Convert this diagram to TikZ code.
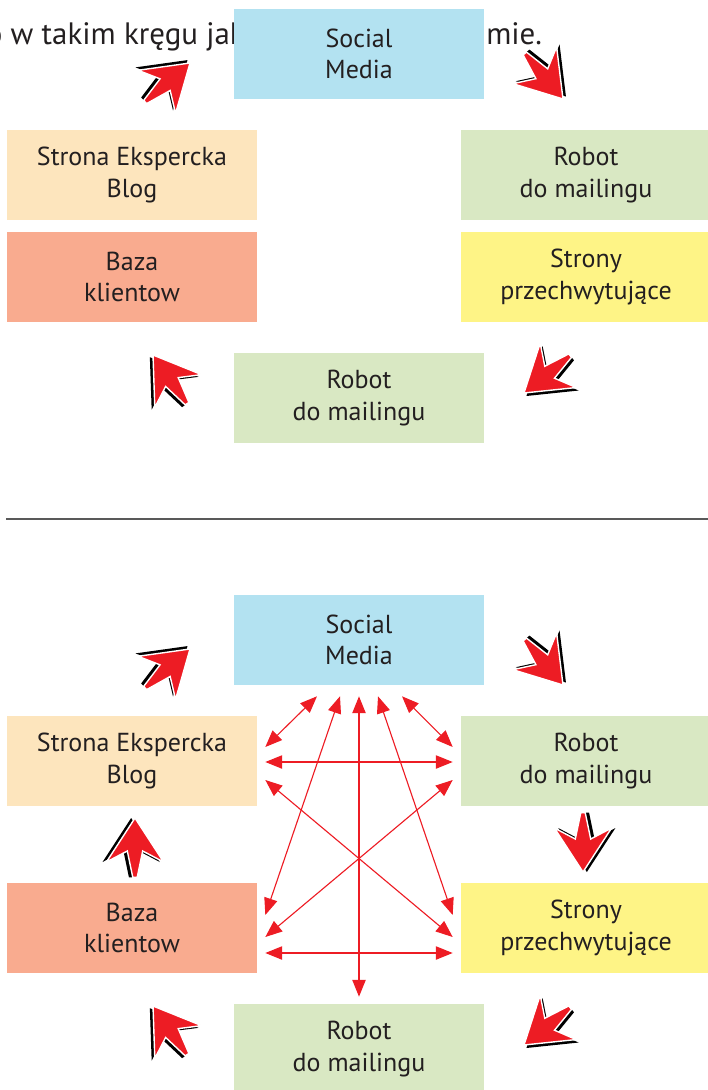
\documentclass[tikz,border=0pt]{standalone}
\usepackage{fontspec}
\setmainfont{PT Sans}
\usetikzlibrary{arrows.meta}

\definecolor{ink}{HTML}{231F20}
\definecolor{arrowred}{HTML}{ED1C24}
\definecolor{skyblue}{HTML}{B3E2F1}
\definecolor{peach}{HTML}{FDE5BD}
\definecolor{sage}{HTML}{D9E8C3}
\definecolor{salmon}{HTML}{F9AB8F}
\definecolor{lemon}{HTML}{FEF486}

\newcommand{\boxfont}{\fontsize{18.5}{22.5}\selectfont}
\newcommand{\leadfont}{\fontsize{22}{26}\selectfont}

\tikzset{
  box/.style={minimum width=6.25cm, minimum height=2.25cm, inner sep=0pt,
    align=center, font=\boxfont, text=ink},
  leadtext/.style={font=\leadfont, text=ink, inner sep=0pt},
  link/.style={draw=arrowred, line width=0.8pt,
    {Triangle[length=12pt,width=9.5pt]}-{Triangle[length=12pt,width=9.5pt]}},
  cursor/.pic={
    \begin{scope}[x=0.0275cm, y=0.0275cm]
      % shadow first, then the red dart with a white rim
      \fill[black] (0,3.5) -- (-40,29.5) -- (-30,10.5) -- (-54,5.5) -- (-54,1.5) -- (-30,-3.5) -- (-40,-22.5) -- cycle;
      \filldraw[fill=arrowred, draw=white, line width=1pt]
        (0,0) -- (-40,26) -- (-30,7) -- (-54,2) -- (-54,-2) -- (-30,-7) -- (-40,-26) -- cycle;
    \end{scope}
  }
}

\begin{document}
\begin{tikzpicture}[x=0.025cm, y=-0.025cm]
  \useasboundingbox (0,0) rectangle (708,1090);

  % line of text behind the first box
  \node[leadtext, anchor=base east] (lead) at (245,45) {o w takim kręgu jak};
  \node[leadtext, anchor=base west] (leadend) at (486,45) {mie.};

  % upper circle
  \node[box, fill=skyblue] (socialA) at (359,54) {Social\\Media};
  \node[box, fill=peach] (blogA) at (132,175) {Strona Ekspercka\\Blog};
  \node[box, fill=sage] (robotA) at (586,175) {Robot\\do mailingu};
  \node[box, fill=salmon] (bazaA) at (132,277) {Baza\\klientow};
  \node[box, fill=lemon] (stronyA) at (586,277) {Strony\\przechwytujące};
  \node[box, fill=sage] (mailA) at (359,398) {Robot\\do mailingu};

  \pic[rotate=41] at (190,63) {cursor};
  \pic[rotate=-50] at (563,99) {cursor};
  \pic[rotate=125] at (153,355) {cursor};
  \pic[rotate=219] at (524,393) {cursor};

  \draw[gray!70!black, line width=1.4pt] (6,519) -- (708,519);

  % lower circle
  \node[box, fill=skyblue] (socialB) at (359,640) {Social\\Media};
  \node[box, fill=peach] (blogB) at (132,761) {Strona Ekspercka\\Blog};
  \node[box, fill=sage] (robotB) at (586,761) {Robot\\do mailingu};
  \node[box, fill=salmon] (bazaB) at (132,928) {Baza\\klientow};
  \node[box, fill=lemon] (stronyB) at (586,928) {Strony\\przechwytujące};
  \node[box, fill=sage] (mailB) at (359,1049) {Robot\\do mailingu};

  \pic[rotate=41] at (190,649) {cursor};
  \pic[rotate=-50] at (563,685) {cursor};
  \pic[rotate=90] at (135,818) {cursor};
  \pic[rotate=-90] at (583,872) {cursor};
  \pic[rotate=125] at (153,1006) {cursor};
  \pic[rotate=219] at (524,1045) {cursor};

  \draw[link] ([shift={(-42,11)}]socialB.south) -- ([shift={(8,-14)}]blogB.east);
  \draw[link] ([shift={(-19,11)}]socialB.south) -- ([shift={(8,-13)}]bazaB.east);
  \draw[link] ([shift={(0,11)}]socialB.south) -- ([shift={(0,-7)}]mailB.north);
  \draw[link] ([shift={(19,11)}]socialB.south) -- ([shift={(-8,-13)}]stronyB.west);
  \draw[link] ([shift={(43,11)}]socialB.south) -- ([shift={(-8,-14)}]robotB.west);
  \draw[link] ([shift={(8,1)}]blogB.east) -- ([shift={(-8,1)}]robotB.west);
  \draw[link] ([shift={(8,19)}]blogB.east) -- ([shift={(-8,9)}]stronyB.west);
  \draw[link] ([shift={(-8,19)}]robotB.west) -- ([shift={(8,9)}]bazaB.east);
  \draw[link] ([shift={(8,25)}]bazaB.east) -- ([shift={(-8,25)}]stronyB.west);
\end{tikzpicture}
\end{document}
